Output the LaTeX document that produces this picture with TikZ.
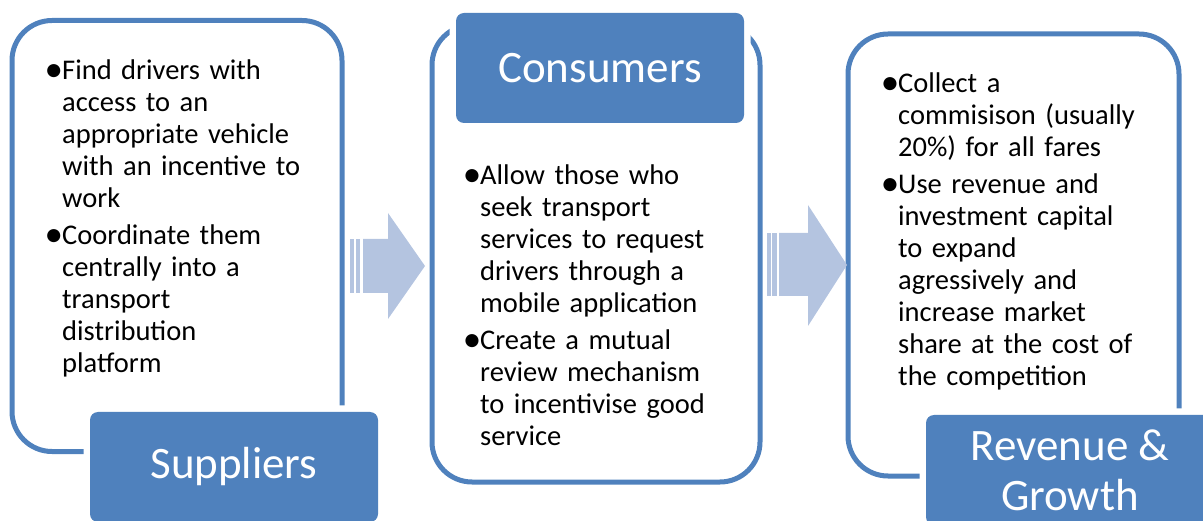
\documentclass[tikz,border=0pt]{standalone}
\usepackage{fontspec}
\setmainfont{Carlito}
\definecolor{boxblue}{RGB}{79,129,189}
\definecolor{arrowblue}{RGB}{180,196,224}
\newcommand{\bul}{\leavevmode\llap{\raisebox{-2pt}{\scalebox{1.3}{•}}\hskip-1pt}}

\begin{document}
\begin{tikzpicture}[x=1pt,y=-1pt,
    outline/.style={draw=boxblue,line width=5pt,rounded corners=40pt,inner sep=0pt},
    tagbox/.style={fill=boxblue,rounded corners=8pt,minimum width=288pt,minimum height=110pt,
      inner sep=0pt,text=white,align=center,font=\fontsize{45}{50}\selectfont,
      preaction={draw=white,line width=13pt}},
    bodytext/.style={anchor=base west,text width=260pt,align=left,inner sep=0pt,
      font=\fontsize{28.5}{32}\selectfont,execute at begin node={\leftskip=13pt}},
    flow/.style={fill=arrowblue}]
    \useasboundingbox (0,0) rectangle (1203,521);

    % outlines
    \node[outline,minimum width=330pt,minimum height=431pt] (supbox) at (177,236) {};
    \node[outline,minimum width=328pt,minimum height=457pt] (conbox) at (596,253.5) {};
    \node[outline,minimum width=331pt,minimum height=442pt] (revbox) at (1013.5,255) {};

    % labels
    \node[tagbox] (suplabel) at (234,467) {Suppliers};
    \node[tagbox] (conlabel) at (600,68) {Consumers};
    \node[tagbox] (revlabel) at (1070,470) {Revenue \&\\Growth};

    % bullet texts
    \node[bodytext] (suptext) at (49,80) {\bul Find drivers with\\ access to an\\ appropriate vehicle\\
      with an incentive to\\ work\\[5pt]
      \bul Coordinate them\\ centrally into a\\ transport\\ distribution\\ platform};
    \node[bodytext] (context) at (467,185) {\bul Allow those who\\ seek transport\\ services to request\\
      drivers through a\\ mobile application\\[5pt]
      \bul Create a mutual\\ review mechanism\\ to incentivise good\\ service};
    \node[bodytext] (revtext) at (885,93) {\bul Collect a\\ commisison (usually\\ 20\%) for all fares\\[5pt]
      \bul Use revenue and\\ investment capital\\ to expand\\ agressively and\\ increase market\\
      share at the cost of\\ the competition};

    % arrows
    \fill[flow] (350,239) rectangle (354,293);
    \fill[flow] (356,239) rectangle (360,293);
    \fill[flow] (363,239) -- (388,239) -- (388,213) -- (425,266) -- (388,319) -- (388,293) -- (363,293) -- cycle;
    \fill[flow] (767,233) rectangle (771,296);
    \fill[flow] (772,233) rectangle (777,296);
    \fill[flow] (779,233) -- (808,233) -- (808,205) -- (847,265) -- (808,326) -- (808,296) -- (779,296) -- cycle;
\end{tikzpicture}
\end{document}
